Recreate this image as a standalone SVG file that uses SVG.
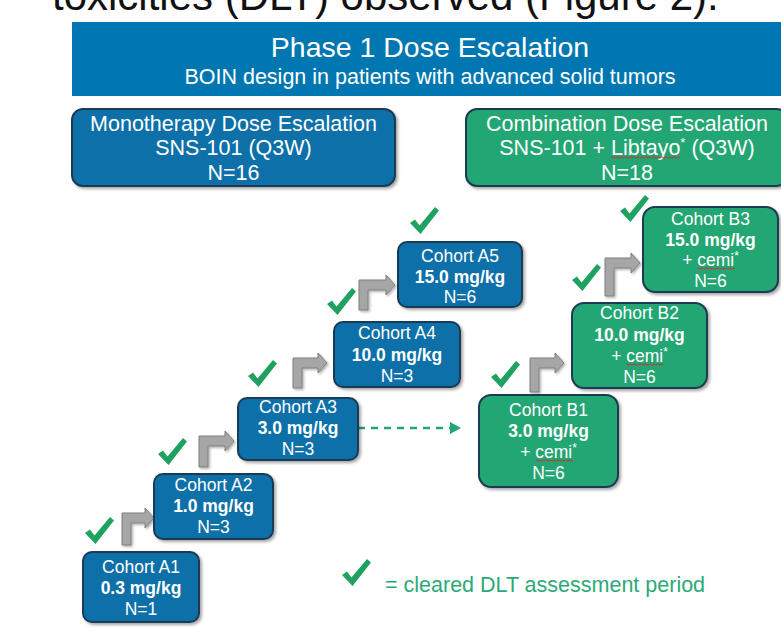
<svg xmlns="http://www.w3.org/2000/svg" xmlns:xlink="http://www.w3.org/1999/xlink" width="781" height="632" viewBox="0 0 781 632">
<style>
text{font-family:"Liberation Sans",Arial,sans-serif}
.blue{fill:#0B70A8;stroke:#1D3A52;stroke-width:2;filter:url(#sh)}
.green{fill:#22A673;stroke:#1D3A52;stroke-width:2;filter:url(#sh)}
.ht{fill:#fff;font-size:21.5px;text-anchor:middle}
.ct{fill:#fff;font-size:17.5px;text-anchor:middle}
.b{font-weight:bold}
.ga{fill:#A6A6A6;stroke:#7F7F7F;stroke-width:1;filter:url(#sh2)}
.chk{fill:#1FA15F}
.wv{fill:url(#wavy)}
</style>
<defs>
<filter id="sh" x="-10%" y="-10%" width="125%" height="130%"><feDropShadow dx="2" dy="2" stdDeviation="1.5" flood-color="#000" flood-opacity="0.35"/></filter>
<filter id="sh2" x="-20%" y="-20%" width="150%" height="150%"><feDropShadow dx="1.5" dy="1.5" stdDeviation="1" flood-color="#000" flood-opacity="0.3"/></filter>
<path id="chk" d="M0,16 L5,12.5 L9.5,18.5 L25,0 L29,3.5 L10.5,27 Z"/>
<pattern id="wavy" width="4" height="3" patternUnits="userSpaceOnUse"><path d="M0,2.2 L2,0.8 L4,2.2" fill="none" stroke="#E02020" stroke-width="0.9"/></pattern>
</defs>

<text x="52" y="10" font-size="42" fill="#111">toxicities (DLT) observed (Figure 2).</text>

<g id="header">
<rect x="72" y="22" width="709" height="74" fill="#0077B0"/>
<text x="430" y="57" fill="#fff" font-size="28.5" text-anchor="middle">Phase 1 Dose Escalation</text>
<text x="430" y="84" fill="#fff" font-size="21.5" text-anchor="middle">BOIN design in patients with advanced solid tumors</text>
</g>

<g id="mono">
<rect class="blue" x="72" y="109" width="323" height="77" rx="11"/>
<text class="ht" x="233.5" y="130.5">Monotherapy Dose Escalation</text>
<text class="ht" x="233.5" y="155">SNS-101 (Q3W)</text>
<text class="ht" x="233.5" y="179.5">N=16</text>
</g>

<g id="combo">
<rect class="green" x="466" y="109" width="322" height="77" rx="11"/>
<text class="ht" x="627" y="130.5">Combination Dose Escalation</text>
<text class="ht" x="627" y="155">SNS-101 + Libtayo<tspan font-size="13" dy="-8">*</tspan><tspan dy="8"> (Q3W)</tspan></text>
<rect class="wv" x="611" y="156" width="69" height="3"/>
<text class="ht" x="627" y="179.5">N=18</text>
</g>

<g id="connectors">
<path class="ga" d="M122,545 V513 H145 V508 L154,518 L145,528 V523 H131 V545 Z"/>
<path class="ga" d="M199,467 V436 H225 V431 L234,441 L225,451 V446 H208 V467 Z"/>
<path class="ga" d="M293,388 V358 H318 V353 L327,363 L318,373 V368 H302 V388 Z"/>
<path class="ga" d="M359,310 V280 H386 V275 L395,285 L386,295 V290 H368 V310 Z"/>
<path class="ga" d="M530,392 V358 H555 V353 L564,363 L555,373 V368 H539 V392 Z"/>
<path class="ga" d="M605,296 V258 H631 V253 L640,263 L631,273 V268 H614 V296 Z"/>
<line x1="358" y1="428" x2="451" y2="428" stroke="#22A673" stroke-width="2.5" stroke-dasharray="7 6"/>
<polygon points="450,422 461,428 450,434" fill="#22A673"/>
</g>

<g id="checks" class="chk">
<use href="#chk" x="85" y="517"/>
<use href="#chk" x="158" y="438"/>
<use href="#chk" x="248" y="360"/>
<use href="#chk" x="327" y="288"/>
<use href="#chk" x="410" y="207"/>
<use href="#chk" x="491" y="361"/>
<use href="#chk" x="572" y="264"/>
<use href="#chk" x="620" y="195"/>
</g>

<g id="A1">
<rect class="blue" x="83" y="552" width="116" height="70" rx="9"/>
<text class="ct" x="141" y="573">Cohort A1</text>
<text class="ct b" x="141" y="594">0.3 mg/kg</text>
<text class="ct" x="141" y="615">N=1</text>
</g>
<g id="A2">
<rect class="blue" x="154" y="474" width="119" height="65" rx="9"/>
<text class="ct" x="213.5" y="491">Cohort A2</text>
<text class="ct b" x="213.5" y="512">1.0 mg/kg</text>
<text class="ct" x="213.5" y="533">N=3</text>
</g>
<g id="A3">
<rect class="blue" x="238" y="398" width="120" height="62" rx="9"/>
<text class="ct" x="298" y="413">Cohort A3</text>
<text class="ct b" x="298" y="434">3.0 mg/kg</text>
<text class="ct" x="298" y="455">N=3</text>
</g>
<g id="A4">
<rect class="blue" x="334" y="322" width="126" height="65" rx="9"/>
<text class="ct" x="397" y="339">Cohort A4</text>
<text class="ct b" x="397" y="361">10.0 mg/kg</text>
<text class="ct" x="397" y="382">N=3</text>
</g>
<g id="A5">
<rect class="blue" x="398" y="242" width="124" height="65" rx="9"/>
<text class="ct" x="460" y="262">Cohort A5</text>
<text class="ct b" x="460" y="283">15.0 mg/kg</text>
<text class="ct" x="460" y="303">N=6</text>
</g>

<g id="B1">
<rect class="green" x="479" y="395" width="139" height="92" rx="12"/>
<text class="ct" x="548.5" y="416">Cohort B1</text>
<text class="ct b" x="548.5" y="437">3.0 mg/kg</text>
<text class="ct" x="548.5" y="458">+ cemi<tspan font-size="12" dy="-6">*</tspan></text>
<rect class="wv" x="535.5" y="459" width="37" height="3"/>
<text class="ct" x="548.5" y="479">N=6</text>
</g>
<g id="B2">
<rect class="green" x="572" y="303" width="135" height="85" rx="12"/>
<text class="ct" x="639.5" y="319">Cohort B2</text>
<text class="ct b" x="639.5" y="341">10.0 mg/kg</text>
<text class="ct" x="639.5" y="362">+ cemi<tspan font-size="12" dy="-6">*</tspan></text>
<rect class="wv" x="626.5" y="363" width="37" height="3"/>
<text class="ct" x="639.5" y="383">N=6</text>
</g>
<g id="B3">
<rect class="green" x="643" y="207" width="135" height="85" rx="12"/>
<text class="ct" x="710.5" y="225">Cohort B3</text>
<text class="ct b" x="710.5" y="246">15.0 mg/kg</text>
<text class="ct" x="710.5" y="266">+ cemi<tspan font-size="12" dy="-6">*</tspan></text>
<rect class="wv" x="697.5" y="267" width="37" height="3"/>
<text class="ct" x="710.5" y="287">N=6</text>
</g>

<g id="legend">
<use href="#chk" class="chk" x="342" y="559"/>
<text x="385" y="592" font-size="21.5" fill="#2BAA77">= cleared DLT assessment period</text>
</g>
</svg>
